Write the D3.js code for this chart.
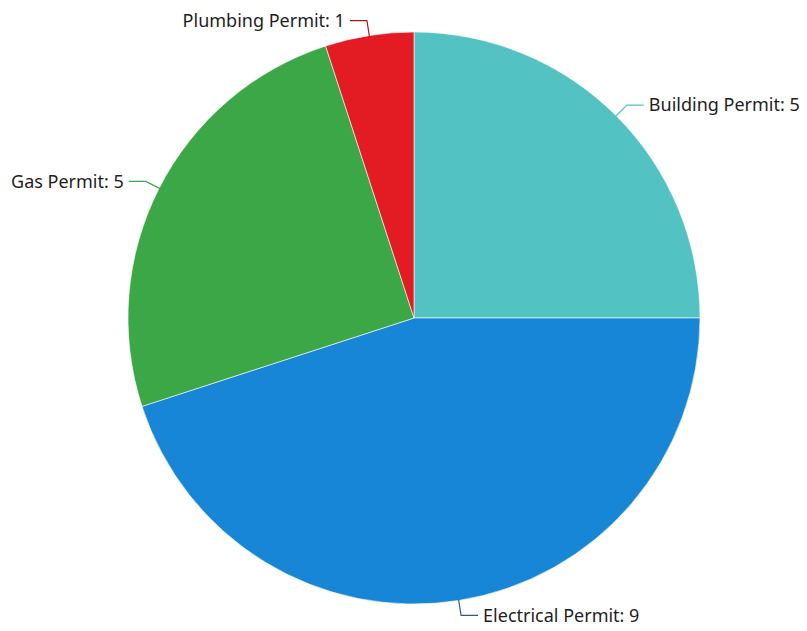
<!DOCTYPE html>
<html>
<head>
<meta charset="utf-8">
<script src="https://cdn.jsdelivr.net/npm/d3@7"></script>
<style>
  body { margin: 0; background: #fff; }
  text { font-family: "Noto Sans", sans-serif; }
</style>
</head>
<body>
<div id="chart"></div>
<script>
// Size
var width = 807;
var height = 631;
var cx = 414, cy = 318;
var radius = 286;

// data
var categories = ["Building Permit", "Electrical Permit", "Gas Permit", "Plumbing Permit"];
var counts = [5, 9, 5, 1];
var colors = ["#52c2c3", "#1886d6", "#3ca747", "#e31b23"];
var lineColors = ["#52c2c3", "#2a5d84", "#3ca747", "#a01a1a"];

var data = categories.map(function(c, i) { return {name: c, value: counts[i]}; });

var color = d3.scaleOrdinal().domain(categories).range(colors);
var lineColor = d3.scaleOrdinal().domain(categories).range(lineColors);

var svg = d3.select("#chart")
  .append("svg")
  .attr("width", width)
  .attr("height", height);

var g = svg.append("g")
  .attr("transform", "translate(" + cx + "," + cy + ")");

var pie = d3.pie()
  .sort(null)
  .value(function(d) { return d.value; });

var arcs = pie(data);

var arc = d3.arc().innerRadius(0).outerRadius(radius);

g.selectAll("path.slice")
  .data(arcs)
  .enter()
  .append("path")
    .attr("class", "slice")
    .attr("d", arc)
    .attr("fill", function(d) { return color(d.data.name); })
    .attr("stroke", "#fff")
    .attr("stroke-width", 0.6);

// leader lines + labels
function midAngle(d) { return (d.startAngle + d.endAngle) / 2; }
function polar(a, r) { return [Math.sin(a) * r, -Math.cos(a) * r]; }

var elbowR = radius + 15;
var tail = 17;
var gap = 5;

g.selectAll("polyline")
  .data(arcs)
  .enter()
  .append("polyline")
    .attr("fill", "none")
    .attr("stroke", function(d) { return lineColor(d.data.name); })
    .attr("stroke-width", 1.2)
    .attr("points", function(d) {
      var a = midAngle(d);
      var p1 = polar(a, radius - 1);
      var p2 = polar(a, elbowR);
      var right = Math.sin(a) > 0;
      var p3 = [p2[0] + (right ? tail : -tail), p2[1]];
      return [p1, p2, p3].map(function(p) { return p.join(","); }).join(" ");
    });

g.selectAll("text.label")
  .data(arcs)
  .enter()
  .append("text")
    .attr("class", "label")
    .attr("x", function(d) {
      var a = midAngle(d);
      var p2 = polar(a, elbowR);
      return Math.sin(a) > 0 ? p2[0] + tail + gap : p2[0] - tail - gap;
    })
    .attr("y", function(d) { return polar(midAngle(d), elbowR)[1]; })
    .attr("dy", "0.35em")
    .attr("text-anchor", function(d) { return Math.sin(midAngle(d)) > 0 ? "start" : "end"; })
    .style("font-size", "18px")
    .style("fill", "#1e1e1e")
    .text(function(d) { return d.data.name + ": " + d.data.value; });
</script>
</body>
</html>
